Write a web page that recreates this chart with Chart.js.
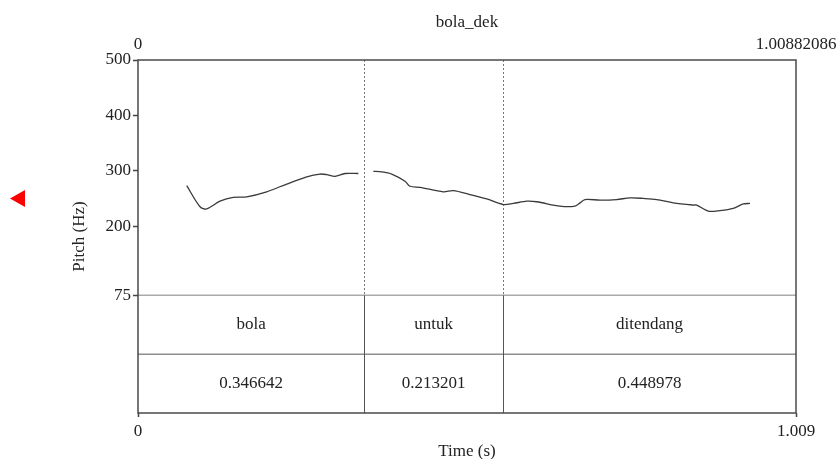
<!DOCTYPE html>
<html>
<head>
<meta charset="utf-8">
<script src="https://cdn.jsdelivr.net/npm/chart.js@4"></script>
<style>
html, body { margin: 0; padding: 0; background: #fff; }
</style>
</head>
<body>
<canvas id="chart" width="837" height="459"></canvas>
<script>
const fileName = 'bola_dek';
const totalDur = 1.00882086;

// pitch contour (time in s, pitch in Hz), null = unvoiced gap
const pitchTimes = [0.0747, 0.0951, 0.1053, 0.1257, 0.1461, 0.1667, 0.1973, 0.2280, 0.2587, 0.2790,
  0.2893, 0.3020, 0.3174, 0.3378, 0.3490, 0.3608, 0.3736, 0.3890, 0.4094, 0.4170,
  0.4324, 0.4681, 0.4834, 0.5090, 0.5346, 0.5601, 0.5754, 0.5960, 0.6113, 0.6470,
  0.6700, 0.6777, 0.6853, 0.7083, 0.7339, 0.7543, 0.7747, 0.7953, 0.8207, 0.8514,
  0.8566, 0.8744, 0.8923, 0.9127, 0.9280, 0.9383];
const pitchHz = [273, 235, 231, 245, 252, 253, 262, 276, 289, 294,
  293, 290, 295, 295, null, 299, 298, 294, 281, 272,
  270, 262, 264, 257, 249, 239, 241, 245, 244, 236,
  236, 242, 248, 247, 248, 251, 250, 248, 242, 238,
  238, 227, 228, 232, 240, 241];

const words = ['bola', 'untuk', 'ditendang'];
const wordDurs = [0.346642, 0.213201, 0.448978];

const pitchTicks = [500, 400, 300, 200, 75];
const pitchMin = 75;
const pitchMax = 500;
const markerHz = 250;

const font = '"Liberation Serif", "DejaVu Serif", serif';
const ink = '#222';

const tiers = {
  id: 'tiers',
  beforeDatasetsDraw(chart) {
    const {ctx, chartArea: a, scales: {x, y}} = chart;
    const yFloor = y.getPixelForValue(pitchMin);
    const yMid = (yFloor + a.bottom) / 2;
    ctx.save();
    // floor of the pitch panel
    ctx.strokeStyle = '#aaa';
    ctx.lineWidth = 1.5;
    ctx.beginPath();
    ctx.moveTo(a.left, yFloor);
    ctx.lineTo(a.right, yFloor);
    ctx.stroke();
    // line between the two tiers
    ctx.strokeStyle = '#555';
    ctx.lineWidth = 1;
    ctx.beginPath();
    ctx.moveTo(a.left, yMid);
    ctx.lineTo(a.right, yMid);
    ctx.stroke();

    ctx.font = '17px ' + font;
    ctx.fillStyle = ink;
    ctx.textAlign = 'center';
    ctx.textBaseline = 'middle';
    let t = 0;
    wordDurs.forEach((d, i) => {
      const xs = x.getPixelForValue(t);
      const xe = x.getPixelForValue(t + d);
      ctx.fillText(words[i], (xs + xe) / 2, (yFloor + yMid) / 2);
      ctx.fillText(d.toFixed(6), (xs + xe) / 2, (yMid + a.bottom) / 2);
      t += d;
      if (i < wordDurs.length - 1) {
        const xb = Math.round(xe) + 0.5;
        ctx.strokeStyle = '#555';
        ctx.lineWidth = 1;
        ctx.setLineDash([]);
        ctx.beginPath();
        ctx.moveTo(xb, yFloor);
        ctx.lineTo(xb, a.bottom);
        ctx.stroke();
        ctx.strokeStyle = '#777';
        ctx.setLineDash([2, 2]);
        ctx.beginPath();
        ctx.moveTo(xb, a.top);
        ctx.lineTo(xb, yFloor);
        ctx.stroke();
        ctx.setLineDash([]);
      }
    });
    ctx.restore();
  },
  afterDraw(chart) {
    const {ctx, chartArea: a, scales: {y}} = chart;
    ctx.save();
    ctx.strokeStyle = '#4a4a4a';
    ctx.lineWidth = 1.5;
    ctx.strokeRect(a.left, a.top, a.right - a.left, a.bottom - a.top);
    // red cursor marker at the left
    const ym = y.getPixelForValue(markerHz);
    ctx.fillStyle = '#f00';
    ctx.beginPath();
    ctx.moveTo(10, ym);
    ctx.lineTo(25, ym - 8.5);
    ctx.lineTo(25, ym + 8.5);
    ctx.closePath();
    ctx.fill();
    ctx.restore();
  }
};

// labels may overhang the plot edges, as in the original
const noOverhang = (s) => { s.paddingLeft = 0; s.paddingRight = 0; s.paddingTop = 0; s.paddingBottom = 0; };

const ctx = document.getElementById('chart').getContext('2d');

const chart = new Chart(ctx, {
  type: 'line',
  data: {
    datasets: [{
      label: 'Pitch',
      data: pitchTimes.map((t, i) => ({x: t, y: pitchHz[i]})),
      borderColor: '#3a3a3a',
      borderWidth: 1.3,
      pointRadius: 0,
      tension: 0.3,
      spanGaps: false,
      fill: false
    }]
  },
  options: {
    responsive: false,
    animation: false,
    layout: {padding: {left: 0, right: 41, top: 0, bottom: 0}},
    plugins: {legend: {display: false}, tooltip: {enabled: false}},
    scales: {
      x: {
        type: 'linear',
        position: 'bottom',
        min: 0,
        max: totalDur,
        afterBuildTicks: (s) => { s.ticks = [{value: 0}, {value: totalDur}]; },
        afterFit: (s) => { s.height = 46; noOverhang(s); },
        ticks: {
          callback: (v) => v === 0 ? '0' : v.toFixed(3),
          color: ink, font: {family: font, size: 17}, padding: 4, maxRotation: 0, autoSkip: false
        },
        grid: {drawOnChartArea: false, tickLength: 4, tickColor: '#444', tickWidth: 1.5},
        border: {display: false},
        title: {display: true, text: 'Time (s)', color: ink, font: {family: font, size: 17, lineHeight: 1}, padding: {top: 0, bottom: -1}}
      },
      x2: {
        type: 'linear',
        position: 'top',
        min: 0,
        max: totalDur,
        afterBuildTicks: (s) => { s.ticks = [{value: 0}, {value: totalDur}]; },
        afterFit: (s) => { s.height = 60; noOverhang(s); },
        ticks: {
          callback: (v) => v === 0 ? '0' : String(totalDur),
          color: ink, font: {family: font, size: 17}, padding: -3, maxRotation: 0, autoSkip: false
        },
        grid: {display: false},
        border: {display: false},
        title: {display: true, text: fileName, color: ink, font: {family: font, size: 17, lineHeight: 1}, padding: {top: 14, bottom: 0}}
      },
      y: {
        type: 'linear',
        position: 'left',
        min: pitchMin - (pitchMax - pitchMin) / 2,
        max: pitchMax,
        afterBuildTicks: (s) => { s.ticks = pitchTicks.map((v) => ({value: v})); },
        afterFit: (s) => { s.width = 138; noOverhang(s); },
        ticks: {color: ink, font: {family: font, size: 17}, padding: 2, autoSkip: false},
        grid: {drawOnChartArea: false, tickLength: 5, tickColor: '#444', tickWidth: 1.5},
        border: {display: false},
        title: {display: true, text: 'Pitch (Hz)', color: ink, font: {family: font, size: 17, lineHeight: 1}, padding: {top: 71, bottom: 0}}
      }
    }
  },
  plugins: [tiers]
});
</script>
</body>
</html>
